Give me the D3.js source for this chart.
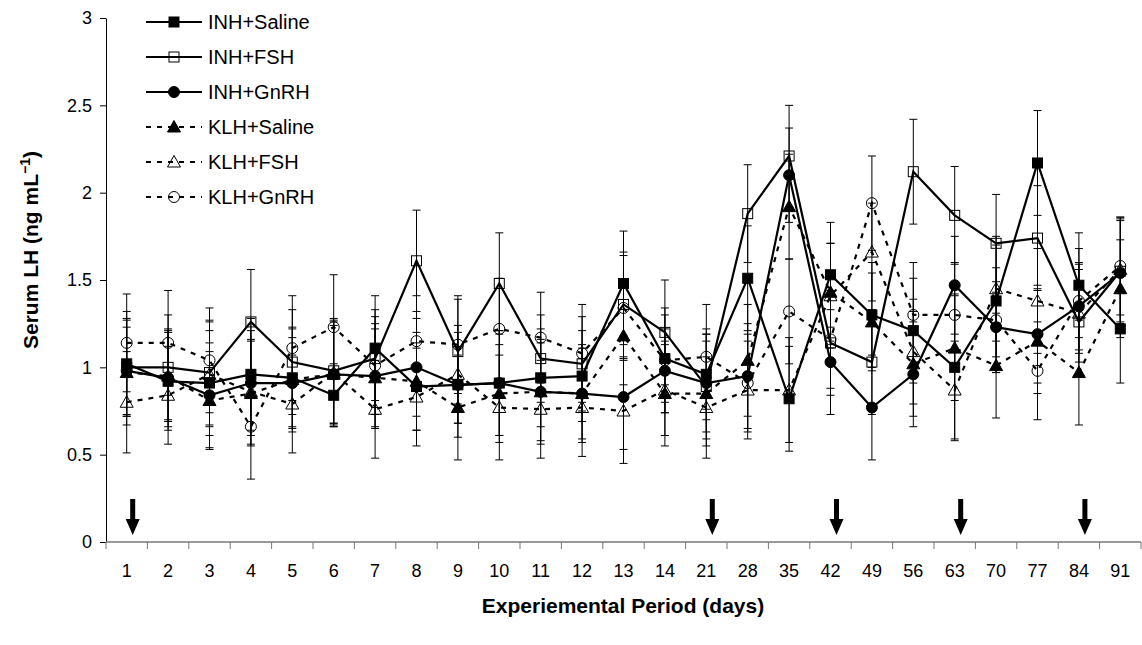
<!DOCTYPE html>
<html>
<head>
<meta charset="utf-8">
<script src="https://cdn.jsdelivr.net/npm/d3@7"></script>
<style>
  body { margin: 0; background: #fff; }
  .chart { width: 1142px; height: 645px; }
  text { font-family: "Liberation Sans", Arial, sans-serif; fill: #000; }
</style>
</head>
<body>
<div class="chart"></div>
<script>
// experimental days (categories on the x axis)
const days = ['1','2','3','4','5','6','7','8','9','10','11','12','13','14','21','28','35','42','49','56','63','70','77','84','91'];
const arrowDays = ['1','21','42','63','84'];
const yTicks = [0, 0.5, 1, 1.5, 2, 2.5, 3];

// serum LH means (ng/mL)
const inhSaline = [1.02,0.92,0.91,0.96,0.94,0.84,1.11,0.89,0.90,0.91,0.94,0.95,1.48,1.05,0.96,1.51,0.82,1.53,1.30,1.21,1.00,1.38,2.17,1.47,1.22];
const inhFSH    = [1.00,1.00,0.97,1.26,1.03,0.98,1.05,1.61,1.09,1.48,1.05,1.02,1.36,1.20,0.89,1.88,2.21,1.14,1.03,2.12,1.87,1.71,1.74,1.26,1.55];
const inhGnRH   = [0.98,0.94,0.84,0.91,0.91,0.96,0.95,1.00,0.90,0.91,0.86,0.85,0.83,0.98,0.91,0.95,2.10,1.03,0.77,0.96,1.47,1.23,1.19,1.35,1.54];
const klhSaline = [0.97,0.95,0.81,0.85,0.93,0.96,0.94,0.92,0.77,0.85,0.86,0.85,1.18,0.85,0.85,1.04,1.92,1.43,1.26,1.02,1.11,1.01,1.15,0.97,1.45];
const klhFSH    = [0.80,0.84,0.96,0.86,0.79,0.97,0.76,0.83,0.96,0.77,0.76,0.77,0.75,0.87,0.77,0.87,0.87,1.41,1.66,1.09,0.87,1.45,1.38,1.31,1.56];
const klhGnRH   = [1.14,1.14,1.04,0.66,1.11,1.23,1.01,1.15,1.13,1.22,1.17,1.08,1.34,1.04,1.06,0.91,1.32,1.16,1.94,1.30,1.30,1.27,0.98,1.38,1.58];

// standard errors
const inhSalineErr = [0.30,0.28,0.30,0.32,0.28,0.18,0.30,0.25,0.22,0.30,0.28,0.26,0.30,0.25,0.26,0.30,0.30,0.30,0.30,0.30,0.42,0.32,0.30,0.30,0.31];
const inhFSHErr    = [0.28,0.30,0.30,0.30,0.30,0.30,0.28,0.29,0.30,0.29,0.25,0.27,0.30,0.30,0.30,0.28,0.29,0.30,0.30,0.30,0.28,0.28,0.30,0.30,0.30];
const inhGnRHErr   = [0.25,0.28,0.30,0.30,0.26,0.28,0.30,0.28,0.30,0.30,0.30,0.28,0.30,0.24,0.28,0.30,0.27,0.30,0.30,0.30,0.28,0.26,0.28,0.25,0.30];
const klhSalineErr = [0.30,0.26,0.28,0.30,0.30,0.30,0.28,0.28,0.30,0.28,0.28,0.26,0.28,0.30,0.30,0.32,0.30,0.28,0.28,0.30,0.30,0.30,0.30,0.30,0.28];
const klhFSHErr    = [0.29,0.28,0.30,0.30,0.28,0.30,0.28,0.28,0.28,0.30,0.28,0.28,0.30,0.26,0.29,0.28,0.30,0.30,0.28,0.30,0.28,0.30,0.30,0.28,0.30];
const klhGnRHErr   = [0.28,0.30,0.30,0.30,0.30,0.30,0.28,0.26,0.28,0.29,0.26,0.28,0.30,0.30,0.30,0.28,0.30,0.28,0.27,0.30,0.30,0.30,0.28,0.30,0.28];

const series = [
  {name: 'INH+Saline', values: inhSaline, err: inhSalineErr, dash: null,  shape: 'square',   fill: true},
  {name: 'INH+FSH',    values: inhFSH,    err: inhFSHErr,    dash: null,  shape: 'square',   fill: false},
  {name: 'INH+GnRH',   values: inhGnRH,   err: inhGnRHErr,   dash: null,  shape: 'circle',   fill: true},
  {name: 'KLH+Saline', values: klhSaline, err: klhSalineErr, dash: '5,6', shape: 'triangle', fill: true},
  {name: 'KLH+FSH',    values: klhFSH,    err: klhFSHErr,    dash: '5,6', shape: 'triangle', fill: false},
  {name: 'KLH+GnRH',   values: klhGnRH,   err: klhGnRHErr,   dash: '5,6', shape: 'circle',   fill: false}
];

const width = 1142, height = 645;
const svg = d3.select('.chart').append('svg')
  .attr('width', width)
  .attr('height', height);

const x = d3.scaleBand().domain(days).range([106, 1141]);
const y = d3.scaleLinear().domain([0, 3]).range([542, 18]);
const cx = d => x(d) + x.bandwidth() / 2;

// y axis
svg.append('g')
  .attr('transform', 'translate(106,0)')
  .call(d3.axisLeft(y).tickValues(yTicks).tickSize(6).tickSizeOuter(0).tickPadding(8).tickFormat(d3.format('')))
  .call(g => g.selectAll('text').style('font-size', '18px').attr('font-family', null))
  .call(g => g.selectAll('line,path').attr('stroke', '#000'));

// x axis: grey baseline, ticks on band edges
const xg = svg.append('g').attr('transform', 'translate(0,542)');
xg.append('line').attr('x1', 106).attr('x2', 1141).attr('stroke', '#777').attr('stroke-width', 1.5);
xg.selectAll('.xt').data(days.map(d => x(d)).concat([x.range()[1]]))
  .enter().append('line')
  .attr('x1', d => d).attr('x2', d => d)
  .attr('y1', 0).attr('y2', 7)
  .attr('stroke', '#777');
xg.selectAll('.xl').data(days).enter().append('text')
  .attr('x', cx).attr('y', 35)
  .attr('text-anchor', 'middle')
  .style('font-size', '18px')
  .text(d => d);

// arrows marking treatment days
const arrow = d3.line();
arrowDays.forEach(d => {
  const ax = cx(d) + 6;
  svg.append('path')
    .attr('d', arrow([[ax - 2.5, 499], [ax + 2.5, 499], [ax + 2.5, 519], [ax + 7, 519], [ax, 535], [ax - 7, 519], [ax - 2.5, 519]]) + 'Z')
    .attr('fill', '#000');
});

function drawMarker(g, s, px, py) {
  const stroke = '#000', fill = s.fill ? '#000' : 'none';
  if (s.shape === 'square') {
    g.append('rect').attr('x', px - 5).attr('y', py - 5).attr('width', 10).attr('height', 10)
      .attr('fill', fill).attr('stroke', stroke).attr('stroke-width', 1);
  } else if (s.shape === 'circle') {
    g.append('circle').attr('cx', px).attr('cy', py).attr('r', 5.5)
      .attr('fill', fill).attr('stroke', stroke).attr('stroke-width', 1);
  } else {
    g.append('path').attr('d', `M${px},${py - 6.5}L${px + 6.5},${py + 5}L${px - 6.5},${py + 5}Z`)
      .attr('fill', fill).attr('stroke', stroke).attr('stroke-width', 1);
  }
}

// error bars
series.forEach(s => {
  const g = svg.append('g');
  days.forEach((d, i) => {
    const px = cx(d), lo = y(s.values[i] - s.err[i]), hi = y(s.values[i] + s.err[i]);
    g.append('line').attr('x1', px).attr('x2', px).attr('y1', lo).attr('y2', hi).attr('stroke', '#000').attr('stroke-width', 1);
    g.append('line').attr('x1', px - 4).attr('x2', px + 4).attr('y1', lo).attr('y2', lo).attr('stroke', '#000').attr('stroke-width', 1);
    g.append('line').attr('x1', px - 4).attr('x2', px + 4).attr('y1', hi).attr('y2', hi).attr('stroke', '#000').attr('stroke-width', 1);
  });
});

// lines
const line = d3.line().x((v, i) => cx(days[i])).y(v => y(v));
series.forEach(s => {
  svg.append('path')
    .attr('d', line(s.values))
    .attr('fill', 'none')
    .attr('stroke', '#000')
    .attr('stroke-width', 2.2)
    .attr('stroke-dasharray', s.dash);
});

// markers
series.forEach(s => {
  const g = svg.append('g');
  s.values.forEach((v, i) => drawMarker(g, s, cx(days[i]), y(v)));
});

// legend
series.forEach((s, i) => {
  const ly = 22 + i * 35;
  const g = svg.append('g');
  g.append('line').attr('x1', 146).attr('x2', 202).attr('y1', ly).attr('y2', ly)
    .attr('stroke', '#000').attr('stroke-width', 2.2).attr('stroke-dasharray', s.dash);
  drawMarker(g, s, 174, ly);
  g.append('text').attr('x', 208).attr('y', ly + 7).style('font-size', '20px').text(s.name);
});

// axis titles
svg.append('text')
  .attr('x', 623).attr('y', 613)
  .attr('text-anchor', 'middle')
  .style('font-size', '21px').style('font-weight', 'bold')
  .text('Experiemental Period (days)');

const yt = svg.append('text')
  .attr('transform', 'translate(38,250) rotate(-90)')
  .attr('text-anchor', 'middle')
  .style('font-size', '21px').style('font-weight', 'bold');
yt.append('tspan').text('Serum LH (ng mL');
yt.append('tspan').attr('dy', -8).style('font-size', '14px').text('\u22121');
yt.append('tspan').attr('dy', 8).text(')');
</script>
</body>
</html>
